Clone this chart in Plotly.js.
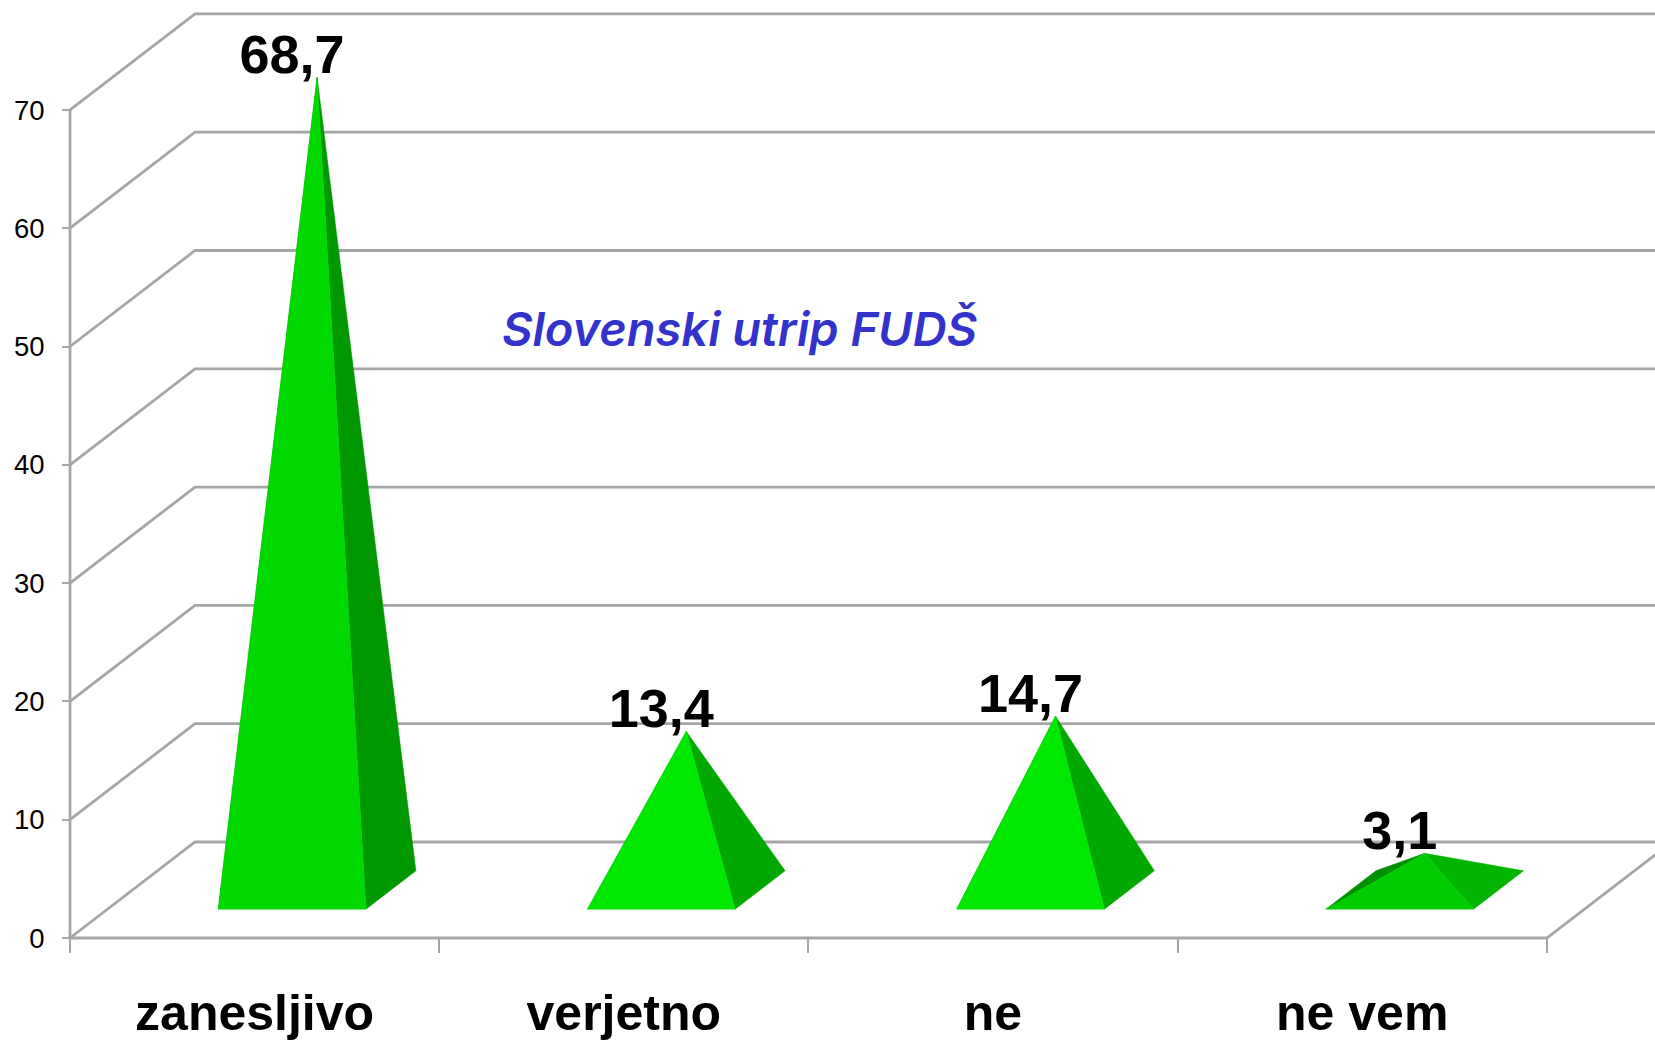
<!DOCTYPE html>
<html>
<head>
<meta charset="utf-8">
<script src="https://cdn.plot.ly/plotly-3.0.1.min.js"></script>
<style>html,body{margin:0;padding:0;background:#fff}#chart{width:1655px;height:1040px}</style>
</head>
<body>
<div id="chart"></div>
<script>
// Data
const categories = ['zanesljivo', 'verjetno', 'ne', 'ne vem'];
const values = [68.7, 13.4, 14.7, 3.1];
const valueLabels = ['68,7', '13,4', '14,7', '3,1'];
const yTicks = [0, 10, 20, 30, 40, 50, 60, 70];
const subtitle = 'Slovenski utrip FUDŠ';

// Per-pyramid face shading
const frontColors = ['#00d800', '#00e800', '#00e800', '#00cc00'];
const sideColors = ['#009800', '#00a800', '#00a800', '#00b400'];
const leftColors = ['#009800', '#00a800', '#00a800', '#009000'];

// Page / scale set-up
const W = 1655, H = 1040;
const originX = 70, originY = 938;      // pixel place of the (0,0) corner
const catPx = 369.2, unitPx = 11.83;    // pixels per category, per value unit
const depthX = 125 / catPx;             // depth offset in x-axis units
const depthY = 96 / unitPx;             // depth offset in y-axis units
const halfW = 0.2, dFront = 0.3, dBack = 0.7, dMid = 0.5;
const labelDrop = 9 / unitPx;           // value labels sit this close to the apex
const gridColor = '#a6a6a6';

const px = (c, d) => c + d * depthX;
const py = (v, d) => v + d * depthY;
const traces = [];

function line(xs, ys) {
  traces.push({x: xs, y: ys, mode: 'lines', line: {color: gridColor, width: 2.8},
    hoverinfo: 'skip', showlegend: false});
}
function face(pts, color) {
  traces.push({x: pts.map(p => p[0]), y: pts.map(p => p[1]), mode: 'lines', fill: 'toself',
    fillcolor: color, line: {color: color, width: 0.5}, hoverinfo: 'skip', showlegend: false});
}

// 3D walls and grid from the tick values
const nCat = categories.length;
yTicks.forEach(v => {
  line([px(0, 0), px(0, 1), px(nCat, 1)], [py(v, 0), py(v, 1), py(v, 1)]);
});
line([0, 0], [0, yTicks[yTicks.length - 1]]);
line([0, nCat, px(nCat, 1)], [0, 0, py(0, 1)]);

// Pyramids
values.forEach((v, i) => {
  const c = i + 0.5;
  const FL = [px(c - halfW, dFront), py(0, dFront)];
  const FR = [px(c + halfW, dFront), py(0, dFront)];
  const BL = [px(c - halfW, dBack), py(0, dBack)];
  const BR = [px(c + halfW, dBack), py(0, dBack)];
  const A = [px(c, dMid), py(v, dMid)];
  face([FL, BL, A, FL], leftColors[i]);
  face([FR, BR, A, FR], sideColors[i]);
  face([FL, FR, A, FL], frontColors[i]);
});

// Value labels
traces.push({
  x: values.map((v, i) => px(i + 0.5, dFront)),
  y: values.map(v => py(v, dMid) - labelDrop),
  text: valueLabels,
  mode: 'text',
  textposition: 'top center',
  textfont: {family: '"Liberation Sans", Arial, sans-serif', size: 54, color: '#000', weight: 'bold'},
  cliponaxis: false,
  hoverinfo: 'skip',
  showlegend: false
});

const layout = {
  width: W, height: H,
  margin: {l: 0, r: 0, t: 0, b: 0},
  paper_bgcolor: '#fff', plot_bgcolor: '#fff',
  showlegend: false,
  xaxis: {
    domain: [0, 1],
    range: [-originX / catPx, (W - originX) / catPx],
    anchor: 'free', position: 1 - originY / H,
    showgrid: false, zeroline: false, showline: false,
    tickmode: 'array',
    tickvals: categories.map((_, i) => i + 0.5),
    ticktext: categories,
    ticks: '',
    ticklabelstandoff: 41,
    tickfont: {family: '"Liberation Sans", Arial, sans-serif', size: 50, color: '#000', weight: 'bold'},
    minor: {tickmode: 'array', tickvals: categories.map((_, i) => i).concat([nCat]),
      ticks: 'outside', ticklen: 14, tickwidth: 2, tickcolor: gridColor, showgrid: false}
  },
  yaxis: {
    domain: [0, 1],
    range: [(originY - H) / unitPx, originY / unitPx],
    anchor: 'free', position: originX / W,
    showgrid: false, zeroline: false, showline: false,
    tickmode: 'array',
    tickvals: yTicks,
    ticktext: yTicks.map(String),
    ticks: 'outside', ticklen: 8, tickwidth: 2, tickcolor: gridColor,
    ticklabelstandoff: 12,
    tickfont: {family: '"Liberation Sans", Arial, sans-serif', size: 27.5, color: '#000'}
  },
  annotations: [{
    text: subtitle, xref: 'paper', yref: 'paper',
    x: 740 / W, y: 1 - 328 / H, xanchor: 'center', yanchor: 'middle', showarrow: false,
    font: {family: 'Inter, "Open Sans", sans-serif', size: 47, color: '#3333cc', weight: 600, style: 'italic'}
  }]
};

Plotly.newPlot('chart', traces, layout, {displayModeBar: false, staticPlot: true});
</script>
</body>
</html>
